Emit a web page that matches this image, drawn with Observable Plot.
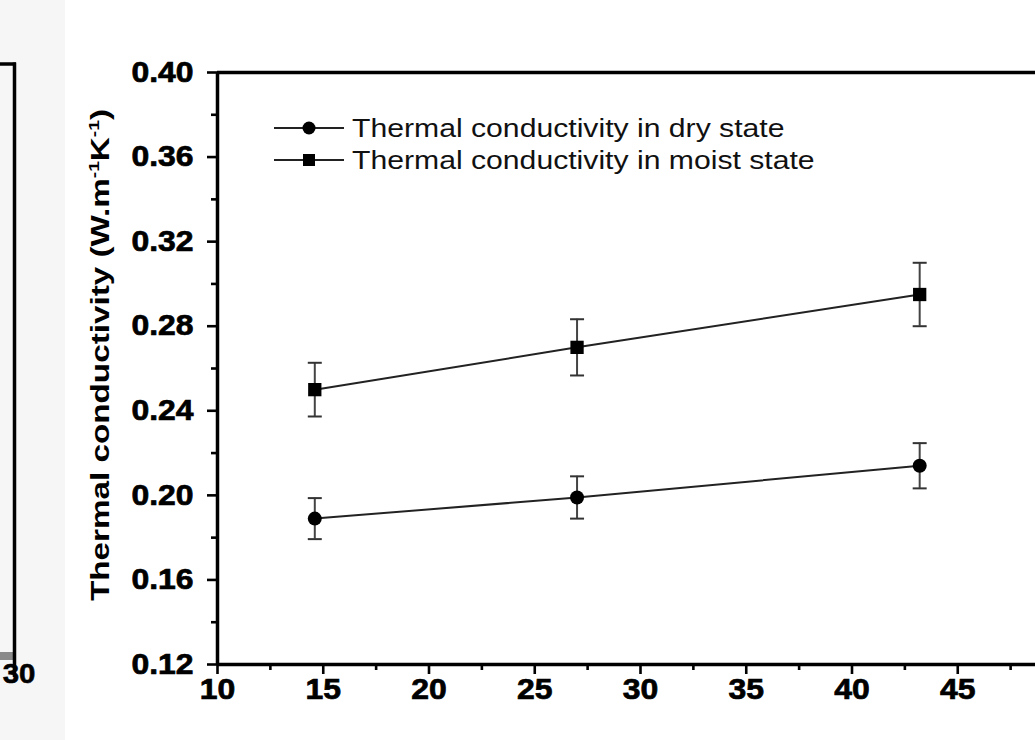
<!DOCTYPE html>
<html>
<head>
<meta charset="utf-8">
<script src="https://cdn.jsdelivr.net/npm/d3@7"></script>
<script src="https://cdn.jsdelivr.net/npm/@observablehq/plot@0.6"></script>
<style>
  html, body { margin: 0; padding: 0; background: #fff; overflow: hidden; }
  #chart { width: 1035px; height: 740px; }
</style>
</head>
<body>
<div id="chart"></div>
<script>
// ---- data ----
const moisture = [14.6, 27.0, 43.2];
const dryK = [0.189, 0.199, 0.214];
const dryErr = [0.0097, 0.0100, 0.0107];
const moistK = [0.250, 0.270, 0.295];
const moistErr = [0.0127, 0.0133, 0.0150];
const seriesNames = ["Thermal conductivity in dry state", "Thermal conductivity in moist state"];
const yTicks = [0.12, 0.16, 0.20, 0.24, 0.28, 0.32, 0.36, 0.40];
const yMinor = [0.14, 0.18, 0.22, 0.26, 0.30, 0.34, 0.38];
const xTicks = [10, 15, 20, 25, 30, 35, 40, 45];
const xMinor = [12.5, 17.5, 22.5, 27.5, 32.5, 37.5, 42.5, 47.5];
const neighbourTick = "30";

const dry = moisture.map((x, i) => ({x, k: dryK[i], e: dryErr[i]}));
const moist = moisture.map((x, i) => ({x, k: moistK[i], e: moistErr[i]}));

const capSymbol = { draw(ctx) { ctx.moveTo(-7, 0); ctx.lineTo(7, 0); } };

const W = 1035, H = 740;
const x0 = 217, pxPerUnit = 21.15;
const FONT = "'Liberation Sans', Arial, sans-serif";
const plot = Plot.plot({
  width: W, height: H,
  marginLeft: x0, marginRight: 0, marginTop: 72, marginBottom: H - 664,
  style: { fontFamily: FONT, fontSize: "28px", fontWeight: "bold", color: "#000", background: "transparent" },
  x: { domain: [10, 50], range: [x0, x0 + 40 * pxPerUnit] },
  y: { domain: [0.12, 0.40], range: [664, 72] },
  marks: [
    Plot.axisY(yTicks, { tickSize: 10, tickPadding: 14, fontSize: 28, fontWeight: "bold", tickFormat: d3.format(".2f"), label: null }),
    Plot.axisY(yMinor, { tickSize: 6, tickFormat: () => "", label: null }),
    Plot.axisX(xTicks, { tickSize: 10, tickPadding: 4, fontSize: 28, fontWeight: "bold", tickFormat: d3.format("d"), label: null }),
    Plot.axisX(xMinor, { tickSize: 6, tickFormat: () => "", label: null }),
    Plot.ruleY([0.12], { stroke: "#000", strokeWidth: 3.5 }),
    Plot.ruleY([0.40], { stroke: "#000", strokeWidth: 3.5 }),
    Plot.ruleX([10], { stroke: "#000", strokeWidth: 3.5 }),
    // error bars
    Plot.ruleX(dry, { x: "x", y1: d => d.k - d.e, y2: d => d.k + d.e, stroke: "#444", strokeWidth: 2 }),
    Plot.ruleX(moist, { x: "x", y1: d => d.k - d.e, y2: d => d.k + d.e, stroke: "#444", strokeWidth: 2 }),
    Plot.dot(dry, { x: "x", y: d => d.k - d.e, symbol: capSymbol, stroke: "#333", strokeWidth: 2, fill: "none" }),
    Plot.dot(dry, { x: "x", y: d => d.k + d.e, symbol: capSymbol, stroke: "#333", strokeWidth: 2, fill: "none" }),
    Plot.dot(moist, { x: "x", y: d => d.k - d.e, symbol: capSymbol, stroke: "#333", strokeWidth: 2, fill: "none" }),
    Plot.dot(moist, { x: "x", y: d => d.k + d.e, symbol: capSymbol, stroke: "#333", strokeWidth: 2, fill: "none" }),
    // lines
    Plot.line(dry, { x: "x", y: "k", stroke: "#222", strokeWidth: 2 }),
    Plot.line(moist, { x: "x", y: "k", stroke: "#222", strokeWidth: 2 }),
    // markers
    Plot.dot(dry, { x: "x", y: "k", symbol: "circle", r: 7, fill: "#000", stroke: "none" }),
    Plot.dot(moist, { x: "x", y: "k", symbol: "square", r: 7.5, fill: "#000", stroke: "none" })
  ]
});

document.getElementById("chart").appendChild(plot);
const svg = d3.select(plot);

// thicker axis ticks, as in the reference
svg.selectAll('g[aria-label="x-axis tick"], g[aria-label="y-axis tick"]')
  .attr("stroke-width", 2.6).attr("stroke", "#000");
// larger, heavier tick labels
svg.selectAll('g[aria-label="x-axis tick label"], g[aria-label="y-axis tick label"]')
  .attr("stroke", "#000").attr("stroke-width", 0.7);
svg.selectAll('g[aria-label="x-axis tick label"] text, g[aria-label="y-axis tick label"] text')
  .style("font-size", "29px").style("font-weight", "bold").style("font-family", FONT);

// neighbouring chart fragment on the far left (background strip, frame edge, bar, tick label)
const left = svg.insert("g", ":first-child");
left.append("rect").attr("x", 0).attr("y", 0).attr("width", 65).attr("height", H).attr("fill", "#f6f6f6");
left.append("rect").attr("x", 0).attr("y", 652).attr("width", 13).attr("height", 8).attr("fill", "#8a8a8a");
left.append("line").attr("x1", 0).attr("x2", 16).attr("y1", 64).attr("y2", 64).attr("stroke", "#000").attr("stroke-width", 3.5);
left.append("line").attr("x1", 14.5).attr("x2", 14.5).attr("y1", 62.5).attr("y2", 677).attr("stroke", "#000").attr("stroke-width", 3.5);
left.append("text").attr("x", 19).attr("y", 683).attr("text-anchor", "middle")
  .style("font-size", "28px").attr("font-weight", "bold").attr("font-family", FONT)
  .attr("stroke", "#000").attr("stroke-width", 0.6).text(neighbourTick);

// y-axis title with superscripts
const title = svg.append("text")
  .attr("transform", "translate(109,355) rotate(-90)")
  .attr("text-anchor", "middle")
  .attr("font-family", FONT)
  .style("font-size", "26px").attr("font-weight", "bold").attr("fill", "#000");
title.append("tspan").text("Thermal conductivity (W.m");
title.append("tspan").style("font-size", "15px").attr("dy", -10).text("-1");
title.append("tspan").attr("dy", 10).text("K");
title.append("tspan").style("font-size", "15px").attr("dy", -10).text("-1");
title.append("tspan").attr("dy", 10).text(")");
title.attr("textLength", 492).attr("lengthAdjust", "spacingAndGlyphs");

// legend
const legend = svg.append("g");
const legendRows = [
  { name: seriesNames[0], y: 128, symbol: "circle" },
  { name: seriesNames[1], y: 160, symbol: "square" }
];
legendRows.forEach(r => {
  legend.append("line").attr("x1", 274).attr("x2", 344).attr("y1", r.y).attr("y2", r.y)
    .attr("stroke", "#222").attr("stroke-width", 2);
  if (r.symbol === "circle") {
    legend.append("circle").attr("cx", 309).attr("cy", r.y).attr("r", 6.5).attr("fill", "#000");
  } else {
    legend.append("rect").attr("x", 303).attr("y", r.y - 6).attr("width", 12).attr("height", 12).attr("fill", "#000");
  }
  legend.append("text").attr("x", 352).attr("y", r.y + 9)
    .attr("text-anchor", "start")
    .attr("font-family", FONT)
    .style("font-size", "26px").attr("font-weight", "normal").attr("fill", "#111").text(r.name);
});

// widen tick labels & legend text to match the reference's wide lettering
function widen(sel, f) {
  sel.each(function() {
    const L = this.getComputedTextLength();
    this.setAttribute("textLength", (L * f).toFixed(1));
    this.setAttribute("lengthAdjust", "spacingAndGlyphs");
  });
}
widen(svg.selectAll('g[aria-label="y-axis tick label"] text'), 1.1);
widen(svg.selectAll('g[aria-label="x-axis tick label"] text'), 1.1);
widen(legend.selectAll("text"), 1.16);
widen(left.selectAll("text"), 1.05);
</script>
</body>
</html>
